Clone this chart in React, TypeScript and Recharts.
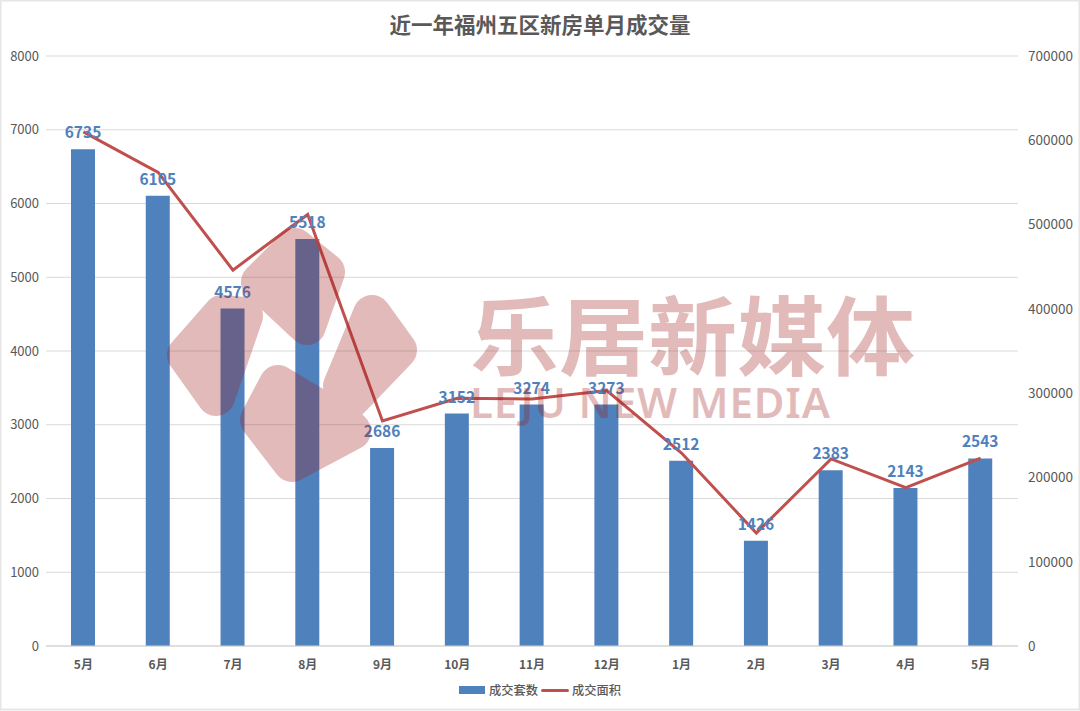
import React from "react";
import { ComposedChart, Bar, Line, XAxis, YAxis, CartesianGrid, Legend, LabelList } from "recharts";

const months = ["5月", "6月", "7月", "8月", "9月", "10月", "11月", "12月", "1月", "2月", "3月", "4月", "5月"];
const units = [6735, 6105, 4576, 5518, 2686, 3152, 3274, 3273, 2512, 1426, 2383, 2143, 2543];
const areas = [610000, 562000, 446000, 512000, 267000, 294000, 293000, 303000, 229000, 134000, 222000, 188000, 223000];
const leftTicks = [0, 1000, 2000, 3000, 4000, 5000, 6000, 7000, 8000];
const rightTicks = [0, 100000, 200000, 300000, 400000, 500000, 600000, 700000];
const title = "近一年福州五区新房单月成交量";
const barName = "成交套数";
const lineName = "成交面积";
const markName = "乐居新媒体";
const markSub = "LEJU NEW MEDIA";

const data = months.map((m, i) => ({ month: m, units: units[i], areas: areas[i] }));
const FONT = '"Noto Sans CJK SC", "Noto Sans", sans-serif';
const GREY = "#595959";
const BLUE = "#4f81bd";
const RED = "#c0504d";

const logoShapes = [
  "M295,247 L326,272 L307,326 L260,282 Z",
  "M222,314 L244,316 L216,397 L186,355 Z",
  "M372,314 L398,350 L350,400 L342,386 Z",
  "M278,384 L345,424 L352,431 L292,463 L259,420 Z",
];

const LegendContent = () => (
  <div style={{ position: "relative", height: 20, fontFamily: FONT, fontSize: 12.25, fontWeight: 500, color: GREY }}>
    <span style={{ position: "absolute", left: 459, top: 6, width: 26, height: 8, background: BLUE }} />
    <span style={{ position: "absolute", left: 489, top: 1, lineHeight: "18px" }}>{barName}</span>
    <span style={{ position: "absolute", left: 541, top: 9, width: 28, height: 3, background: RED, borderRadius: 2 }} />
    <span style={{ position: "absolute", left: 572, top: 1, lineHeight: "18px" }}>{lineName}</span>
  </div>
);

export default function App() {
  return (
    <div style={{ position: "absolute", left: 0, top: 0, width: 1080, height: 711, background: "#fff", overflow: "hidden" }}>
      <ComposedChart
        width={1080}
        height={711}
        data={data}
        margin={{ top: 56, right: 0, left: 0, bottom: 15 }}
      >
        <CartesianGrid horizontal vertical={false} stroke="#d9d9d9" strokeWidth={1} yAxisId="left" />
        <XAxis
          dataKey="month"
          height={30}
          axisLine={{ stroke: "#d0d0d0" }}
          tickLine={false}
          interval={0}
          tickMargin={8}
          tick={{ fontSize: 12, fontWeight: 700, fill: GREY, fontFamily: FONT }}
        />
        <YAxis
          yAxisId="left"
          width={46}
          domain={[0, 8000]}
          ticks={leftTicks}
          axisLine={false}
          tickLine={false}
          tickMargin={1}
          tick={{ fontSize: 13, fill: GREY, fontFamily: FONT }}
        />
        <YAxis
          yAxisId="right"
          orientation="right"
          width={62}
          domain={[0, 700000]}
          ticks={rightTicks}
          axisLine={false}
          tickLine={false}
          tickMargin={4}
          tick={{ fontSize: 13.5, fill: GREY, fontFamily: FONT }}
        />
        <Bar yAxisId="left" dataKey="units" name={barName} fill={BLUE} barSize={24} isAnimationActive={false}>
          <LabelList dataKey="units" position="top" offset={11} fill={BLUE} fontSize={15.5} fontWeight={700} fontFamily={FONT} />
        </Bar>
        <Line
          yAxisId="right"
          dataKey="areas"
          name={lineName}
          stroke={RED}
          strokeWidth={3}
          dot={false}
          isAnimationActive={false}
        />
        <Legend verticalAlign="bottom" height={20} content={LegendContent} wrapperStyle={{ left: 0, bottom: 11, width: 1080 }} />
      </ComposedChart>
      <svg width={1080} height={711} style={{ position: "absolute", left: 0, top: 0, pointerEvents: "none" }}>
        <text x={540} y={33} textAnchor="middle" fontFamily={FONT} fontSize={21.5} fontWeight={700} fill={GREY}>{title}</text>
        <g opacity={0.3} fill="rgb(160,30,30)">
          <g stroke="rgb(160,30,30)" strokeWidth={38} strokeLinejoin="round">
            {logoShapes.map((d) => <path key={d} d={d} />)}
          </g>
          <text x={470} y={369} fontFamily={FONT} fontSize={86} fontWeight={700} textLength={445} lengthAdjust="spacingAndGlyphs">{markName}</text>
          <text x={470} y={418} fontFamily='"Noto Sans", sans-serif' fontSize={42} fontWeight={600} textLength={360} lengthAdjust="spacing">{markSub}</text>
        </g>
        <rect x={0.5} y={0.5} width={1079} height={709} fill="none" stroke="#e6e6e6" strokeWidth={2} />
      </svg>
    </div>
  );
}
